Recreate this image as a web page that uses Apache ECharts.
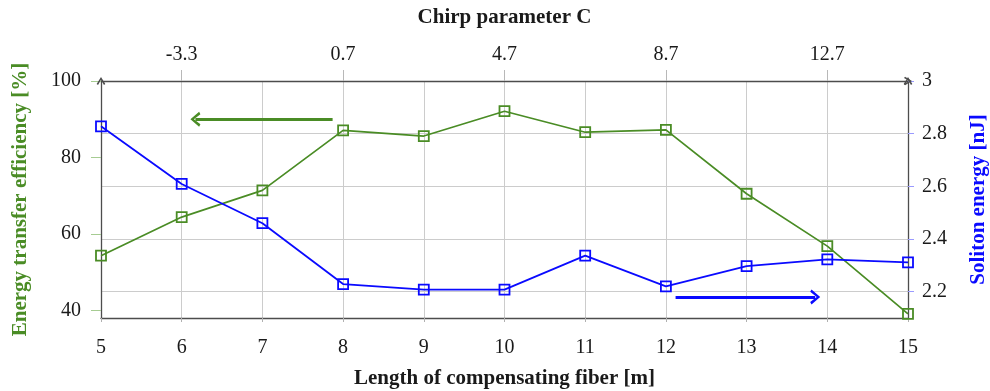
<!DOCTYPE html>
<html>
<head>
<meta charset="utf-8">
<script src="https://cdn.jsdelivr.net/npm/echarts@6/dist/echarts.min.js"></script>
<style>
  html, body { margin: 0; padding: 0; background: #fff; }
  #chart { width: 990px; height: 391px; }
</style>
</head>
<body>
<div id="chart"></div>
<script>
// Fiber lengths on the bottom axis [m]
const fiberLength = [5, 6, 7, 8, 9, 10, 11, 12, 13, 14, 15];
// Energy transfer efficiency [%] (left axis)
const efficiency = [54.3, 64.4, 71.4, 87.1, 85.6, 92.1, 86.6, 87.2, 70.5, 56.8, 39.1];
// Soliton energy [nJ] (right axis)
const solitonEnergy = [2.828, 2.609, 2.460, 2.229, 2.208, 2.208, 2.337, 2.220, 2.297, 2.323, 2.311];
// Chirp parameter C shown on the top axis at these fiber lengths
const chirpTicks = [6, 8, 10, 12, 14];
const chirpLabels = ['-3.3', '0.7', '4.7', '8.7', '12.7'];
// Tick values of the two vertical axes
const effTicks = [40, 60, 80, 100];
const energyTicks = [2.2, 2.4, 2.6, 2.8, 3];
// Direction arrows: which series belongs to which axis
const effArrow = [[7.87, 90], [6.17, 90]];
const energyArrow = [[12.12, 2.18], [13.85, 2.18]];

const GREEN = '#4a8c25';
const BLUE = '#0a0aff';
const FONT = '"Liberation Serif", "DejaVu Serif", serif';
const AXIS = '#4d4d4d';
const GRID = '#cccccc';
const chevron = 'path://M5,0 L10,8 L8.4,9.2 L5,3.2 L1.6,9.2 L0,8 Z';

const chart = echarts.init(document.getElementById('chart'), null, { renderer: 'canvas' });

const labelStyle = { fontFamily: FONT, fontSize: 20, color: '#1a1a1a' };
const nameStyle = { fontFamily: FONT, fontSize: 21, fontWeight: 'bold', color: '#1a1a1a' };

chart.setOption({
  animation: false,
  backgroundColor: '#fff',
  grid: { left: 101, right: 82, top: 81, bottom: 73, containLabel: false, outerBoundsMode: 'none' },
  xAxis: [
    {
      type: 'value', position: 'bottom', min: 5, max: 15, interval: 1,
      name: 'Length of compensating fiber [m]', nameLocation: 'middle', nameGap: 50,
      nameTextStyle: nameStyle,
      axisLine: { show: true, onZero: false, lineStyle: { color: AXIS, width: 1.3 } },
      axisTick: { show: true, length: 4, lineStyle: { color: '#b0b0b0' } },
      axisLabel: Object.assign({ margin: 20 }, labelStyle),
      splitLine: { show: true, lineStyle: { color: GRID, width: 1 } }
    },
    {
      type: 'value', position: 'top', min: 5, max: 15,
      name: 'Chirp parameter C', nameLocation: 'middle', nameGap: 53,
      nameTextStyle: nameStyle,
      axisLine: { show: true, onZero: false, symbol: ['none', chevron], symbolSize: [9, 8],
        lineStyle: { color: AXIS, width: 1.3 } },
      axisTick: { show: true, length: 11, customValues: chirpTicks, lineStyle: { color: '#b8b8b8' } },
      axisLabel: Object.assign({ margin: 16, customValues: chirpTicks,
        formatter: v => chirpLabels[chirpTicks.indexOf(v)] }, labelStyle),
      splitLine: { show: false }
    }
  ],
  yAxis: [
    {
      type: 'value', position: 'left', min: 38, max: 100,
      name: 'Energy transfer efficiency [%]', nameLocation: 'middle', nameGap: 70, nameRotate: 90,
      nameTextStyle: Object.assign({}, nameStyle, { color: GREEN }),
      axisLine: { show: true, onZero: false, symbol: ['none', chevron], symbolSize: [9, 8],
        lineStyle: { color: AXIS, width: 1.3 } },
      axisTick: { show: true, length: 10, customValues: effTicks, lineStyle: { color: '#a6cc92' } },
      axisLabel: Object.assign({ margin: 20, customValues: effTicks }, labelStyle),
      splitLine: { show: false }
    },
    {
      type: 'value', position: 'right', min: 2.1, max: 3,
      name: 'Soliton energy [nJ]', nameLocation: 'middle', nameGap: 60, nameRotate: 90,
      nameTextStyle: Object.assign({}, nameStyle, { color: BLUE }),
      axisLine: { show: true, onZero: false, symbol: ['none', chevron], symbolSize: [9, 8],
        lineStyle: { color: AXIS, width: 1.3 } },
      axisTick: { show: true, length: 6, customValues: energyTicks, lineStyle: { color: '#9a9aff' } },
      axisLabel: Object.assign({ margin: 14, customValues: energyTicks,
        formatter: v => String(v) }, labelStyle),
      splitLine: { show: true, lineStyle: { color: GRID, width: 1 } }
    }
  ],
  series: [
    {
      name: 'Energy transfer efficiency', type: 'line', xAxisIndex: 0, yAxisIndex: 0,
      data: fiberLength.map((x, i) => [x, efficiency[i]]),
      symbol: 'rect', symbolSize: 10, showAllSymbol: true,
      lineStyle: { color: GREEN, width: 1.7 },
      itemStyle: { color: 'rgba(0,0,0,0)', borderColor: GREEN, borderWidth: 1.8 },
      z: 3,
      markLine: {
        silent: true, symbol: ['none', chevron], symbolSize: [15, 10],
        label: { show: false },
        lineStyle: { color: GREEN, width: 3, type: 'solid' },
        data: [[{ coord: effArrow[0] }, { coord: effArrow[1] }]]
      }
    },
    {
      name: 'Soliton energy', type: 'line', xAxisIndex: 0, yAxisIndex: 1,
      data: fiberLength.map((x, i) => [x, solitonEnergy[i]]),
      symbol: 'rect', symbolSize: 10, showAllSymbol: true,
      lineStyle: { color: BLUE, width: 1.8 },
      itemStyle: { color: 'rgba(0,0,0,0)', borderColor: BLUE, borderWidth: 1.8 },
      z: 4,
      markLine: {
        silent: true, symbol: ['none', chevron], symbolSize: [15, 10],
        label: { show: false },
        lineStyle: { color: BLUE, width: 3, type: 'solid' },
        data: [[{ coord: energyArrow[0] }, { coord: energyArrow[1] }]]
      }
    }
  ]
});
</script>
</body>
</html>
